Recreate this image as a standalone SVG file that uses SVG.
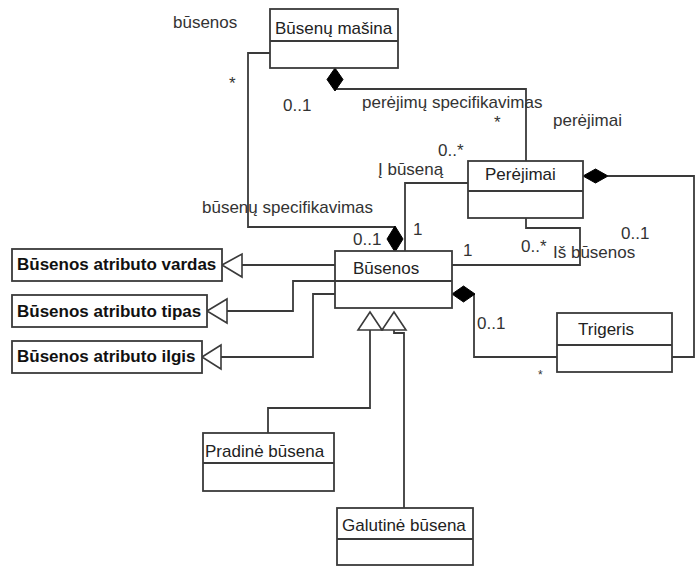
<svg xmlns="http://www.w3.org/2000/svg" width="700" height="567" viewBox="0 0 700 567">
  <style>
    .box { fill: #ffffff; stroke: #3a3a3a; stroke-width: 1.8; }
    .div { stroke: #3a3a3a; stroke-width: 1.8; fill: none; }
    .edge { fill: none; stroke: #3a3a3a; stroke-width: 1.8; }
    .dia { fill: #000000; stroke: #000000; stroke-width: 1; }
    .tri { fill: #ffffff; stroke: #3a3a3a; stroke-width: 1.6; }
    text { font-family: "Liberation Sans", Arial, sans-serif; font-size: 17px; fill: #222222; }
    .lbl { fill: #333333; }
    .small { font-size: 12px; }
    .bold { font-weight: bold; fill: #111111; }
  </style>
  <rect width="700" height="567" fill="#ffffff"/>

  <!-- connectors -->
  <g id="connectors">
    <!-- state machine composition to transitions -->
    <path class="edge" d="M335,89 H526 V161"/>
    <polygon class="dia" points="335,68 343,79.5 335,91 327,79.5"/>
    <!-- state machine to states -->
    <path class="edge" d="M270,53 H248 V227 H395"/>
    <polygon class="dia" points="395,226 403,239 395,252 387,239"/>
    <!-- transitions to target state -->
    <path class="edge" d="M468,183 H405 V251"/>
    <!-- transitions to source state -->
    <path class="edge" d="M526,218 V228 H580 V265 H452"/>
    <!-- transitions composition to trigger -->
    <path class="edge" d="M608,176 H694 V357 H672"/>
    <polygon class="dia" points="583,176 595.5,169 608,176 595.5,183"/>
    <!-- states composition to trigger -->
    <path class="edge" d="M474,294 V357 H557"/>
    <polygon class="dia" points="452,294 463.5,286 475,294 463.5,302"/>
    <!-- attribute realizations -->
    <path class="edge" d="M335,265 H242"/>
    <polygon class="tri" points="222,265 242,254 242,277"/>
    <path class="edge" d="M335,281 H293 V311 H227"/>
    <polygon class="tri" points="207,311 227,299 227,323"/>
    <path class="edge" d="M335,294 H313 V357 H221"/>
    <polygon class="tri" points="202,357 221,345 221,369"/>
    <!-- generalizations -->
    <path class="edge" d="M370,330 V408 H268 V433"/>
    <path class="edge" d="M394,330 V333 H404 V508"/>
    <polygon class="tri" points="370,312 382,330 358,330"/>
    <polygon class="tri" points="394,312 406,330 382,330"/>
  </g>

  <!-- connector labels -->
  <g id="labels">
    <text class="lbl" x="173" y="28">būsenos</text>
    <text class="lbl" x="229" y="89">*</text>
    <text class="lbl" x="283" y="111">0..1</text>
    <text class="lbl" x="362" y="108">perėjimų specifikavimas</text>
    <text class="lbl" x="494" y="128">*</text>
    <text class="lbl" x="553" y="126">perėjimai</text>
    <text class="lbl" x="438" y="156">0..*</text>
    <text class="lbl" x="378" y="175">Į būseną</text>
    <text class="lbl" x="202" y="213">būsenų specifikavimas</text>
    <text class="lbl" x="353" y="245">0..1</text>
    <text class="lbl" x="413" y="235">1</text>
    <text class="lbl" x="463" y="256">1</text>
    <text class="lbl" x="521" y="252">0..*</text>
    <text class="lbl" x="553" y="258">Iš būsenos</text>
    <text class="lbl" x="621" y="239">0..1</text>
    <text class="lbl" x="477" y="329">0..1</text>
    <text class="lbl small" x="538" y="379">*</text>
  </g>

  <g id="busenu-masina">
    <rect class="box" x="270" y="9" width="128" height="59"/>
    <line class="div" x1="270" y1="41" x2="398" y2="41"/>
    <text x="275" y="34">Būsenų mašina</text>
  </g>

  <g id="perejimai">
    <rect class="box" x="468" y="161" width="115" height="57"/>
    <line class="div" x1="468" y1="191" x2="583" y2="191"/>
    <text x="485" y="180">Perėjimai</text>
  </g>

  <g id="busenos">
    <rect class="box" x="335" y="251" width="117" height="57"/>
    <line class="div" x1="335" y1="281" x2="452" y2="281"/>
    <text x="353" y="274">Būsenos</text>
  </g>

  <g id="trigeris">
    <rect class="box" x="557" y="313" width="115" height="59"/>
    <line class="div" x1="557" y1="345" x2="672" y2="345"/>
    <text x="578" y="335">Trigeris</text>
  </g>

  <g id="pradine-busena">
    <rect class="box" x="203" y="433" width="131" height="58"/>
    <line class="div" x1="203" y1="463" x2="334" y2="463"/>
    <text x="205" y="457">Pradinė būsena</text>
  </g>

  <g id="galutine-busena">
    <rect class="box" x="337" y="508" width="136" height="57"/>
    <line class="div" x1="337" y1="539" x2="473" y2="539"/>
    <text x="342" y="531">Galutinė būsena</text>
  </g>

  <g id="atributo-vardas">
    <rect class="box" x="12" y="249" width="210" height="32"/>
    <text class="bold" x="17" y="270">Būsenos atributo vardas</text>
  </g>

  <g id="atributo-tipas">
    <rect class="box" x="12" y="295" width="195" height="32"/>
    <text class="bold" x="17" y="317">Būsenos atributo tipas</text>
  </g>

  <g id="atributo-ilgis">
    <rect class="box" x="12" y="341" width="190" height="32"/>
    <text class="bold" x="17" y="362">Būsenos atributo ilgis</text>
  </g>
</svg>
